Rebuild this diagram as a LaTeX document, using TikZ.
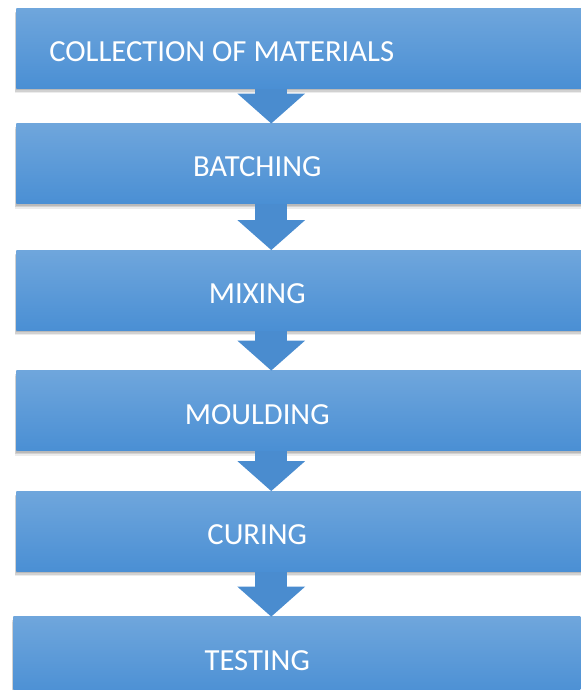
\documentclass[tikz,border=0pt]{standalone}
\usepackage{fontspec}
\setmainfont{Carlito}
\usepackage{tikz}
\usetikzlibrary{
  positioning,
  arrows.meta,
  shadows
}
\definecolor{steptop}{HTML}{6FA6DC}
\definecolor{stepbottom}{HTML}{4A8FD4}
\definecolor{flowblue}{HTML}{4A8CCF}

\begin{document}
\begin{tikzpicture}[
  stepbox/.style={
    rectangle, minimum width=425.25pt, minimum height=60pt, inner sep=0pt,
    top color=steptop, bottom color=stepbottom,
    drop shadow={shadow xshift=-1.2pt, shadow yshift=-3.8pt, opacity=0.15},
    drop shadow={shadow xshift=-0.8pt, shadow yshift=-2.6pt, opacity=0.25},
    drop shadow={shadow xshift=-0.4pt, shadow yshift=-1.4pt, opacity=0.3}
  },
  steptext/.style={
    text=white, inner sep=0pt, font=\fontsize{23}{27}\selectfont
  },
  stepflow/.style={
    flowblue, line width=24pt,
    -{Triangle[width=49.5pt, length=22.5pt]}
  }
]
\useasboundingbox (0,0) rectangle (435.75pt,-517.5pt);

\node[stepbox, anchor=north west] (collect) at (12pt,-6pt) {};
\node[stepbox, below=26.25pt of collect] (batch) {};
\node[stepbox, below=34.5pt of batch] (mix) {};
\node[stepbox, below=30pt of mix] (mould) {};
\node[stepbox, below=30pt of mould] (cure) {};
\node[stepbox, below=33.75pt of cure, xshift=-2.25pt] (test) {};

\node[steptext, anchor=west] (collect-t) at ([xshift=24.75pt, yshift=-2.5pt]collect.west) {COLLECTION OF MATERIALS};
\node[steptext] (batch-t) at ([xshift=-31.9pt, yshift=-2.5pt]batch.center) {BATCHING};
\node[steptext] (mix-t) at ([xshift=-31.9pt, yshift=-2.5pt]mix.center) {MIXING};
\node[steptext] (mould-t) at ([xshift=-31.9pt, yshift=-2.5pt]mould.center) {MOULDING};
\node[steptext] (cure-t) at ([xshift=-31.9pt, yshift=-2.5pt]cure.center) {CURING};
\node[steptext] (test-t) at ([xshift=-31.9pt, yshift=-2.5pt]cure.center |- test.center) {TESTING};

\draw[stepflow] ([xshift=-21.4pt]collect.south) -- ([xshift=-21.4pt]batch.north);
\draw[stepflow] ([xshift=-21.4pt]batch.south) -- ([xshift=-21.4pt]mix.north);
\draw[stepflow] ([xshift=-21.4pt]mix.south) -- ([xshift=-21.4pt]mould.north);
\draw[stepflow] ([xshift=-21.4pt]mould.south) -- ([xshift=-21.4pt]cure.north);
\draw[stepflow] ([xshift=-21.4pt]cure.south) -- ([xshift=-21.4pt]cure.south |- test.north);

\end{tikzpicture}
\end{document}
